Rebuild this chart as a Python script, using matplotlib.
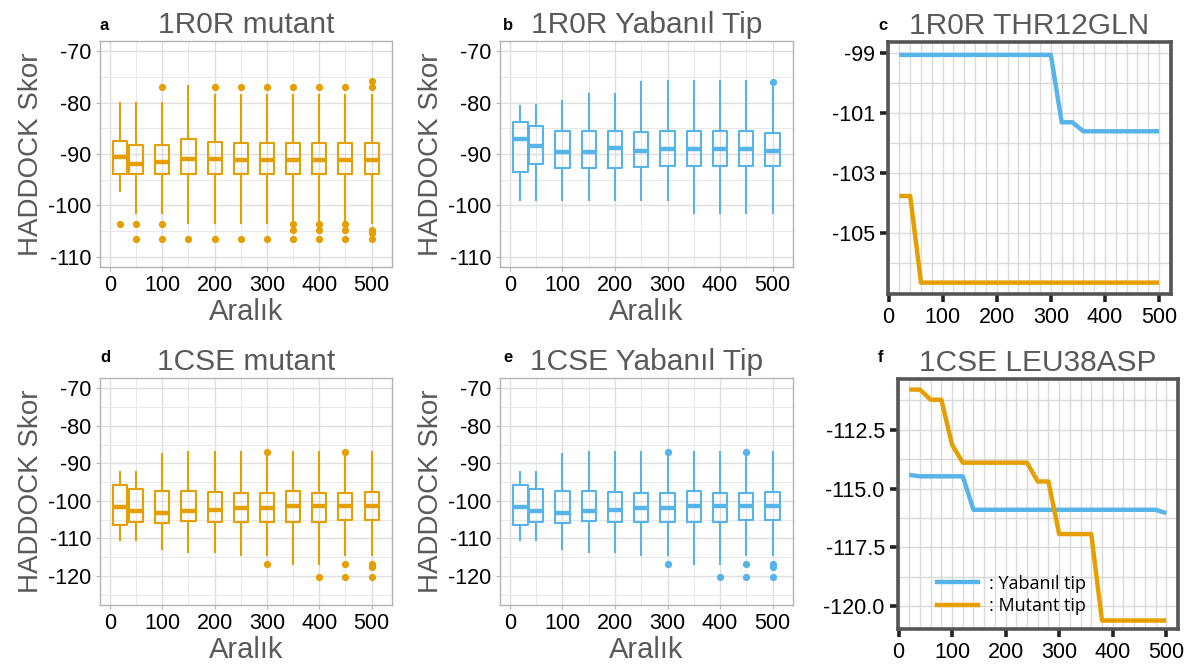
import numpy as np
import matplotlib.pyplot as plt
from matplotlib.ticker import MultipleLocator

plt.rcParams['font.family'] = ['Liberation Sans', 'DejaVu Sans']
plt.rcParams['axes.unicode_minus'] = False

## Colours
orange = '#E69F00'
blue = '#56B4E9'
title_grey = '#595959'

## Box panel data (x = Aralık)
box_x = [20, 50, 100, 150, 200, 250, 300, 350, 400, 450, 500]

# a: 1R0R mutant
a_q1 = [-93.9, -93.9, -93.9, -93.9, -93.9, -93.9, -93.9, -93.9, -93.9, -93.9, -93.9]
a_med = [-90.6, -91.9, -91.5, -90.9, -90.9, -91.1, -91.1, -91.1, -91.1, -91.1, -91.1]
a_q3 = [-87.4, -88.2, -88.2, -87.0, -87.7, -87.8, -87.8, -87.8, -87.8, -87.8, -87.8]
a_lo = [-97.2, -101.5, -101.5, -103.4, -103.4, -103.4, -103.4, -103.4, -103.4, -103.4, -103.4]
a_hi = [-80.1, -80.1, -80.1, -76.8, -78.6, -78.6, -78.6, -78.6, -78.6, -78.6, -78.6]
a_fliers = [[-103.6],
            [-103.6, -106.5],
            [-76.9, -103.6, -106.5],
            [-106.5],
            [-76.9, -106.5],
            [-76.9, -106.5],
            [-76.9, -106.5],
            [-76.9, -103.6, -104.8, -106.5],
            [-76.9, -103.6, -104.8, -106.5],
            [-76.9, -103.6, -104.8, -106.5],
            [-75.7, -76.9, -104.8, -105.3, -106.5]]

# b: 1R0R Yabanıl Tip
b_q1 = [-93.5, -92.0, -92.8, -92.8, -92.8, -92.6, -92.4, -92.4, -92.4, -92.4, -92.4]
b_med = [-87.1, -88.4, -89.6, -89.6, -88.9, -89.5, -89.1, -89.1, -89.1, -89.1, -89.5]
b_q3 = [-83.8, -84.5, -85.6, -85.6, -85.6, -85.8, -85.6, -85.6, -85.6, -85.6, -85.9]
b_lo = [-98.9, -98.9, -98.9, -98.9, -98.9, -98.9, -98.9, -101.5, -101.5, -101.5, -101.5]
b_hi = [-80.6, -80.4, -79.6, -78.4, -78.4, -76.0, -75.8, -75.8, -75.8, -75.8, -77.0]
b_fliers = [[], [], [], [], [], [], [], [], [], [], [-75.9]]

# d: 1CSE mutant
d_q1 = [-106.3, -105.6, -106.0, -105.4, -105.7, -105.7, -105.6, -105.6, -105.6, -105.0, -105.0]
d_med = [-101.7, -102.7, -103.1, -102.6, -102.3, -101.9, -101.9, -101.4, -101.4, -101.4, -101.4]
d_q3 = [-95.7, -96.8, -97.3, -97.3, -97.6, -97.9, -97.9, -97.4, -97.9, -97.9, -97.6]
d_lo = [-110.5, -110.5, -112.7, -113.6, -113.6, -114.5, -114.5, -116.7, -116.7, -114.5, -114.5]
d_hi = [-92.4, -92.4, -87.4, -86.9, -86.9, -86.9, -88.1, -86.9, -86.9, -88.1, -86.9]
d_fliers = [[], [], [], [], [], [],
            [-86.9, -116.9],
            [],
            [-120.4],
            [-86.9, -116.9, -120.4],
            [-116.9, -117.5, -120.4]]

# e: 1CSE Yabanıl Tip
e_q1 = [-106.3, -105.6, -106.0, -105.4, -105.7, -105.7, -105.6, -105.6, -105.6, -105.0, -105.0]
e_med = [-101.7, -102.7, -103.1, -102.6, -102.3, -101.9, -101.9, -101.4, -101.4, -101.4, -101.4]
e_q3 = [-95.7, -96.8, -97.3, -97.3, -97.6, -97.9, -97.9, -97.4, -97.9, -97.9, -97.6]
e_lo = [-110.5, -110.5, -112.7, -113.6, -113.6, -114.5, -114.5, -116.7, -116.7, -114.5, -114.5]
e_hi = [-92.4, -92.4, -87.4, -86.9, -86.9, -86.9, -88.1, -86.9, -86.9, -88.1, -86.9]
e_fliers = [[], [], [], [], [], [],
            [-86.9, -116.9],
            [],
            [-120.4],
            [-86.9, -116.9, -120.4],
            [-116.9, -117.5, -120.4]]

## Line panel data
line_x = [20, 40, 60, 80, 100, 120, 140, 160, 180, 200, 220, 240, 260,
          280, 300, 320, 340, 360, 380, 400, 420, 440, 460, 480, 500]

# c: 1R0R THR12GLN
c_wild = [-99.05] * 15 + [-101.3, -101.3] + [-101.6] * 8
c_mut = [-103.76, -103.76] + [-106.65] * 23

# f: 1CSE LEU38ASP
f_wild = [-114.42, -114.48, -114.48, -114.48, -114.48, -114.48] + [-115.9] * 18 + [-116.04]
f_mut = [-110.8, -110.8, -111.23, -111.23, -113.14, -113.9, -113.9, -113.9,
         -113.9, -113.9, -113.9, -113.9, -114.7, -114.7, -116.93, -116.93,
         -116.93, -116.93, -120.6, -120.6, -120.6, -120.6, -120.6, -120.6, -120.6]

W, H = 1196, 669
fig = plt.figure(figsize=(W / 100, H / 100), dpi=100)


def px_axes(x0, y0, x1, y1):
    return fig.add_axes([x0 / W, 1 - y1 / H, (x1 - x0) / W, (y1 - y0) / H])


def box_panel(ax, q1, med, q3, lo, hi, fliers, color, ylim, yticks, title):
    stats = []
    for i in range(len(box_x)):
        stats.append(dict(q1=q1[i], med=med[i], q3=q3[i], whislo=lo[i],
                          whishi=hi[i], fliers=fliers[i]))
    ax.bxp(stats, positions=box_x, widths=27, manage_ticks=False,
           boxprops=dict(color=color, linewidth=1.5),
           whiskerprops=dict(color=color, linewidth=1.5),
           capprops=dict(linewidth=0),
           medianprops=dict(color=color, linewidth=3.2),
           flierprops=dict(marker='o', markerfacecolor=color, markeredgecolor=color,
                           markersize=4.2))
    ax.set_xlim(-19, 539)
    ax.set_ylim(*ylim)
    ax.set_xticks([0, 100, 200, 300, 400, 500])
    ax.set_yticks(yticks)
    ax.xaxis.set_minor_locator(MultipleLocator(50))
    ax.yaxis.set_minor_locator(MultipleLocator(5))
    ax.grid(which='major', color='#DEDEDE', linewidth=1.0)
    ax.grid(which='minor', color='#E8E8E8', linewidth=0.7)
    ax.set_axisbelow(True)
    for s in ax.spines.values():
        s.set_color('#B3B3B3')
        s.set_linewidth(1.0)
    ax.tick_params(which='major', labelsize=15.5, colors='#B3B3B3', labelcolor='black',
                   length=3, pad=3)
    ax.tick_params(which='minor', length=0)
    ax.set_ylabel('HADDOCK Skor', fontsize=20, color=title_grey, labelpad=3)
    ax.set_xlabel('Aralık', fontsize=21, color=title_grey, labelpad=1)
    ax.set_title(title, fontsize=21.5, color=title_grey, pad=6)


def line_panel(ax, wild, mut, ylim, yticks, yminor, title, fmt):
    ax.plot(line_x, wild, color=blue, linewidth=3.2, solid_capstyle='butt')
    ax.plot(line_x, mut, color=orange, linewidth=3.2, solid_capstyle='butt')
    ax.set_xlim(-1, 522)
    ax.set_ylim(*ylim)
    ax.set_xticks([0, 100, 200, 300, 400, 500])
    ax.set_yticks(yticks)
    ax.set_yticklabels([fmt.format(v) for v in yticks])
    ax.xaxis.set_minor_locator(MultipleLocator(20))
    ax.yaxis.set_minor_locator(MultipleLocator(yminor))
    ax.grid(which='both', color='#D9D9D9', linewidth=1.0)
    ax.set_axisbelow(True)
    for s in ax.spines.values():
        s.set_color('#555555')
        s.set_linewidth(2.6)
    ax.tick_params(which='major', labelsize=15.5, colors='#222222', labelcolor='black',
                   length=6, width=2.6)
    ax.tick_params(which='minor', length=0)
    ax.set_title(title, fontsize=21.5, color=title_grey, pad=6)


ax_a = px_axes(100, 41, 392, 267)
box_panel(ax_a, a_q1, a_med, a_q3, a_lo, a_hi, a_fliers, orange,
          (-112, -68), [-110, -100, -90, -80, -70], '1R0R mutant')
ax_b = px_axes(500, 41, 793, 267)
box_panel(ax_b, b_q1, b_med, b_q3, b_lo, b_hi, b_fliers, blue,
          (-112, -68), [-110, -100, -90, -80, -70], '1R0R Yabanıl Tip')
ax_d = px_axes(100, 378, 392, 605)
box_panel(ax_d, d_q1, d_med, d_q3, d_lo, d_hi, d_fliers, orange,
          (-127.75, -67.25), [-120, -110, -100, -90, -80, -70], '1CSE mutant')
ax_e = px_axes(500, 378, 793, 605)
box_panel(ax_e, e_q1, e_med, e_q3, e_lo, e_hi, e_fliers, blue,
          (-127.75, -67.25), [-120, -110, -100, -90, -80, -70], '1CSE Yabanıl Tip')

ax_c = px_axes(888, 42, 1171, 294)
line_panel(ax_c, c_wild, c_mut, (-107.03, -98.62), [-105, -103, -101, -99], 1,
           '1R0R THR12GLN', '{:.0f}')
ax_f = px_axes(898, 379, 1178, 629)
line_panel(ax_f, f_wild, f_mut, (-120.96, -110.35), [-120.0, -117.5, -115.0, -112.5], 1.25,
           '1CSE LEU38ASP', '{:.1f}')

# legend inside f
h1, = ax_f.plot([], [], color=blue, linewidth=3.2)
h2, = ax_f.plot([], [], color=orange, linewidth=3.2)
ax_f.legend([h1, h2], [': Yabanıl tip', ': Mutant tip'], loc='lower left',
            bbox_to_anchor=(0.08, -0.01), frameon=False, handlelength=2.3,
            handletextpad=0.6, labelspacing=0.25,
            prop=dict(family=['Open Sans', 'DejaVu Sans'], size=13))

# panel letters
for x, y, t in [(100, 30, 'a'), (503, 30, 'b'), (878, 30, 'c'),
                (100, 362, 'd'), (503, 362, 'e'), (878, 362, 'f')]:
    fig.text(x / W, 1 - y / H, t, fontsize=12, fontweight='bold', color='black')

fig.savefig('out.png', dpi=100)
